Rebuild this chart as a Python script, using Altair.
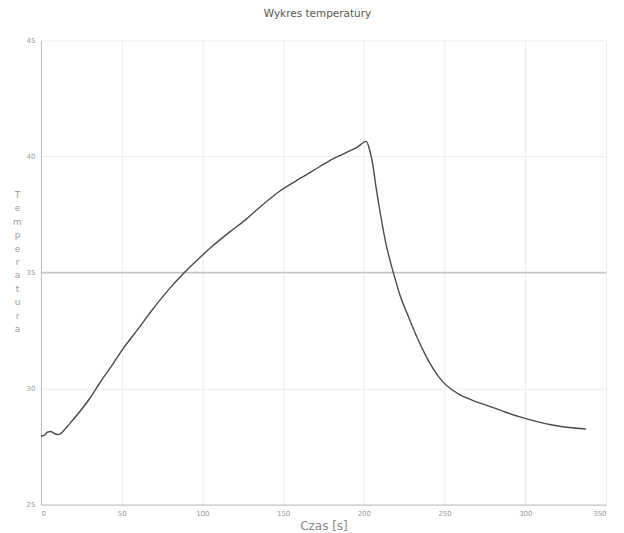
import altair as alt
import pandas as pd

time_s = [0, 2, 4, 6, 8, 10, 12, 14, 18, 24, 30, 36.5, 44, 51, 60, 68.5, 78.7, 89, 97,
          106.6, 117, 127.2, 137, 147.8, 158, 168.4, 178.7, 189, 196, 201.5, 203.5,
          205.5, 207.5, 209.6, 213.5, 217.9, 222.5, 228.2, 233, 238.5, 243, 248.8,
          254, 259.1, 267, 275.6, 286, 296.2, 306, 316.8, 327, 337.5]
temperature = [27.95, 27.98, 28.12, 28.15, 28.08, 28.02, 28.05, 28.18, 28.5, 29.0, 29.55,
               30.25, 31.0, 31.73, 32.55, 33.35, 34.23, 35.01, 35.55, 36.16, 36.75, 37.3,
               37.9, 38.5, 38.95, 39.38, 39.81, 40.16, 40.4, 40.65, 40.3, 39.67, 38.7,
               37.8, 36.3, 35.09, 34.0, 33.0, 32.2, 31.4, 30.85, 30.3, 29.98, 29.75,
               29.5, 29.29, 29.03, 28.79, 28.6, 28.43, 28.32, 28.26]
threshold = [35]
x_ticks = [0, 50, 100, 150, 200, 250, 300, 350]
y_ticks = [25, 30, 35, 40, 45]
y_title = list("Temperatura")

df = pd.DataFrame({"t": time_s, "temp": temperature})
thr = pd.DataFrame({"y": threshold})

font = "DejaVu Sans"
y_scale = alt.Scale(domain=[25, 45], nice=False, zero=False)
x_scale = alt.Scale(domain=[0, 350], nice=False, zero=False)

x_enc = alt.X("t:Q", scale=x_scale,
              axis=alt.Axis(values=x_ticks, title="Czas [s]", titleFontSize=12,
                            titleColor="#888", titleFontWeight="normal", titlePadding=4,
                            labelFontSize=7, labelColor="#999", ticks=False,
                            labelPadding=5, domainColor="#bbb", gridColor="#ececec",
                            labelFont=font, titleFont=font))
y_axis = alt.Axis(values=y_ticks, title=y_title, titleAngle=0,
                  titleX=-24, titleY=150, titleAlign="center",
                  titleBaseline="top", titleLineHeight=13.5,
                  titleFontSize=9, titleColor="#999", titleFontWeight="normal",
                  labelFontSize=7, labelColor="#999", ticks=False,
                  labelPadding=6, domainColor="#bbb", gridColor="#ececec",
                  labelFont=font, titleFont=font)
y_enc = alt.Y("temp:Q", scale=y_scale, axis=y_axis)

line = alt.Chart(df).mark_line(color="#4a4a4a", strokeWidth=1.4,
                               interpolate="monotone").encode(x=x_enc, y=y_enc)
rule = alt.Chart(thr).mark_rule(color="#c4c4c4", strokeWidth=1.6).encode(
    y=alt.Y("y:Q", scale=y_scale, axis=y_axis))

chart = alt.layer(rule, line).properties(
    width=566, height=465,
    title=alt.TitleParams("Wykres temperatury", fontSize=10.5, color="#555",
                          fontWeight="normal", font=font, offset=17, dx=-6),
    autosize=alt.AutoSizeParams(type="none"),
    padding={"left": 33, "top": 32, "right": 10, "bottom": 30},
).configure_view(stroke=None)

chart.save("out.html", embed_options={"renderer": "svg", "actions": False})
